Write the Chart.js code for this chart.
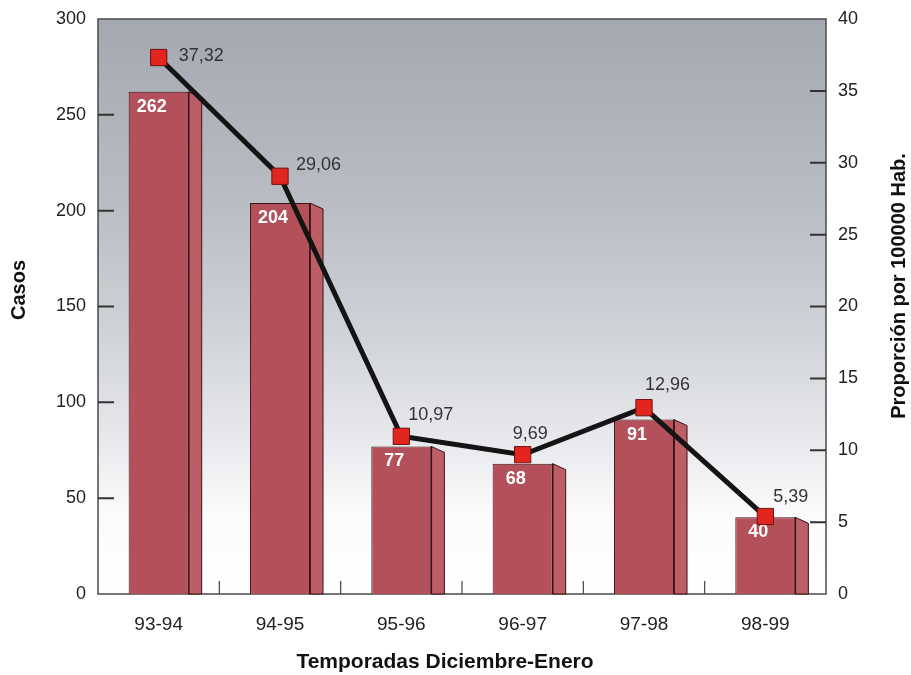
<!DOCTYPE html>
<html>
<head>
<meta charset="utf-8">
<script src="https://cdn.jsdelivr.net/npm/chart.js@4/dist/chart.umd.min.js"></script>
<style>
  html, body { margin: 0; padding: 0; background: #ffffff; }
  #wrap { width: 911px; height: 675px; position: relative; }
</style>
</head>
<body>
<div id="wrap"><canvas id="c" width="911" height="675"></canvas></div>
<script>
// Temporadas (diciembre-enero)
const seasons = ['93-94', '94-95', '95-96', '96-97', '97-98', '98-99'];
// Casos por temporada
const cases = [262, 204, 77, 68, 91, 40];
// Proporción por 100000 habitantes
const rate = [37.32, 29.06, 10.97, 9.69, 12.96, 5.39];
// Marcas de los ejes
const casesTicks = [0, 50, 100, 150, 200, 250, 300];
const rateTicks = [0, 5, 10, 15, 20, 25, 30, 35, 40];

const FONT = "'Liberation Sans', Arial, Helvetica, sans-serif";
const fmt = v => v.toFixed(2).replace('.', ',');

// Fondo degradado del área de trazado, marco y marcas interiores de los ejes
const frame = {
  id: 'frame',
  beforeDatasetsDraw(chart) {
    const { ctx, chartArea: a, scales } = chart;
    ctx.save();
    const g = ctx.createLinearGradient(0, a.top, 0, a.bottom);
    g.addColorStop(0, '#a4a8b0');
    g.addColorStop(0.3, '#b7bbc2');
    g.addColorStop(0.55, '#d0d3d8');
    g.addColorStop(0.75, '#eaebee');
    g.addColorStop(0.86, '#fbfbfc');
    g.addColorStop(1, '#ffffff');
    ctx.fillStyle = g;
    ctx.fillRect(a.left, a.top, a.right - a.left, a.bottom - a.top);

    ctx.strokeStyle = '#4a4a4a';
    ctx.lineWidth = 1.5;
    ctx.strokeRect(a.left, a.top, a.right - a.left, a.bottom - a.top);

    ctx.lineWidth = 2;
    ctx.strokeStyle = '#333';
    ctx.beginPath();
    casesTicks.slice(1, -1).forEach(v => {
      const y = scales.y.getPixelForValue(v);
      ctx.moveTo(a.left, y); ctx.lineTo(a.left + 16, y);
    });
    rateTicks.slice(1, -1).forEach(v => {
      const y = scales.y1.getPixelForValue(v);
      ctx.moveTo(a.right, y); ctx.lineTo(a.right - 16, y);
    });
    ctx.stroke();

    ctx.lineWidth = 1.2;
    ctx.strokeStyle = '#444';
    ctx.beginPath();
    for (let i = 1; i < seasons.length; i++) {
      const x = (scales.x.getPixelForValue(i - 1) + scales.x.getPixelForValue(i)) / 2;
      ctx.moveTo(x, a.bottom); ctx.lineTo(x, a.bottom - 13);
    }
    ctx.stroke();
    ctx.restore();
  }
};

// Cara lateral de las barras (efecto 3D) y etiquetas de casos
const bars3d = {
  id: 'bars3d',
  afterDatasetDraw(chart, args) {
    if (args.index !== 0) return;
    const { ctx } = chart;
    const meta = args.meta;
    ctx.save();
    meta.data.forEach((bar, i) => {
      const { x, y, base, width } = bar.getProps(['x', 'y', 'base', 'width'], true);
      const r = x + width / 2;
      const d = 13, s = 6;
      ctx.beginPath();
      ctx.moveTo(r, y);
      ctx.lineTo(r + d, y + s);
      ctx.lineTo(r + d, base);
      ctx.lineTo(r, base);
      ctx.closePath();
      ctx.fillStyle = '#bd5e67';
      ctx.fill();
      ctx.strokeStyle = '#3c1417';
      ctx.lineWidth = 1;
      ctx.stroke();
      ctx.beginPath();
      ctx.moveTo(r, y); ctx.lineTo(r, base);
      ctx.lineWidth = 1.5;
      ctx.stroke();

      ctx.fillStyle = '#ffffff';
      ctx.font = 'bold 18px ' + FONT;
      ctx.textAlign = 'center';
      ctx.textBaseline = 'middle';
      ctx.fillText(String(cases[i]), x - 7, y + 15);
    });
    ctx.restore();
  }
};

// Etiquetas de la proporción junto a cada punto
const rateLabels = {
  id: 'rateLabels',
  afterDatasetsDraw(chart, args, opts) {
    const { ctx } = chart;
    const meta = chart.getDatasetMeta(1);
    ctx.save();
    ctx.fillStyle = '#333';
    ctx.font = '18px ' + FONT;
    ctx.textAlign = 'left';
    ctx.textBaseline = 'middle';
    meta.data.forEach((pt, i) => {
      const [dx, dy] = opts.place[i];
      ctx.fillText(fmt(rate[i]), pt.x + dx, pt.y + dy);
    });
    ctx.restore();
  }
};

// Títulos de los ejes
const axisTitles = {
  id: 'axisTitles',
  afterDraw(chart) {
    const { ctx } = chart;
    ctx.save();
    ctx.fillStyle = '#111';
    ctx.textAlign = 'center';
    ctx.textBaseline = 'middle';

    ctx.font = 'bold 20px ' + FONT;
    ctx.save();
    ctx.translate(19, 290);
    ctx.rotate(-Math.PI / 2);
    ctx.fillText('Casos', 0, 0);
    ctx.restore();

    ctx.save();
    ctx.translate(899, 286);
    ctx.rotate(-Math.PI / 2);
    ctx.fillText('Proporción por 100000 Hab.', 0, 0);
    ctx.restore();

    ctx.font = 'bold 21px ' + FONT;
    ctx.fillText('Temporadas Diciembre-Enero', 445, 662);
    ctx.restore();
  }
};

new Chart(document.getElementById('c'), {
  data: {
    labels: seasons,
    datasets: [
      {
        type: 'bar',
        label: 'Casos',
        data: cases,
        yAxisID: 'y',
        backgroundColor: '#b3505a',
        borderColor: '#3c1417',
        borderWidth: 1,
        borderSkipped: 'bottom',
        categoryPercentage: 1,
        barPercentage: 0.495,
        order: 2
      },
      {
        type: 'line',
        label: 'Proporción por 100000 Hab.',
        data: rate,
        yAxisID: 'y1',
        borderColor: '#141414',
        borderWidth: 5,
        tension: 0,
        pointStyle: 'rect',
        pointRadius: 11.5,
        pointHoverRadius: 11.5,
        pointBackgroundColor: '#e2261f',
        pointBorderColor: '#6e1010',
        pointBorderWidth: 1,
        order: 1
      }
    ]
  },
  options: {
    responsive: false,
    animation: false,
    events: [],
    layout: { padding: { top: 19, left: 0, right: 0, bottom: 0 } },
    plugins: {
      legend: { display: false },
      tooltip: { enabled: false },
      rateLabels: { place: [[20, -1], [16, -11], [7, -21], [-10, -21], [1, -23], [8, -19]] }
    },
    scales: {
      x: {
        offset: true,
        grid: { display: false, drawTicks: false },
        border: { display: false },
        ticks: { color: '#222', font: { family: FONT, size: 19 }, padding: 19 },
        afterFit(s) { s.height = 81; }
      },
      y: {
        position: 'left',
        min: 0, max: 300,
        grid: { display: false, drawTicks: false },
        border: { display: false },
        afterBuildTicks(s) { s.ticks = casesTicks.map(v => ({ value: v })); },
        ticks: { color: '#222', font: { family: FONT, size: 18, lineHeight: 1 }, padding: 12 },
        afterFit(s) { s.width = 98; s.paddingTop = 0; }
      },
      y1: {
        position: 'right',
        min: 0, max: 40,
        grid: { display: false, drawTicks: false },
        border: { display: false },
        afterBuildTicks(s) { s.ticks = rateTicks.map(v => ({ value: v })); },
        ticks: { color: '#222', font: { family: FONT, size: 18, lineHeight: 1 }, padding: 12 },
        afterFit(s) { s.width = 85; s.paddingTop = 0; }
      }
    }
  },
  plugins: [frame, bars3d, rateLabels, axisTitles]
});
</script>
</body>
</html>
